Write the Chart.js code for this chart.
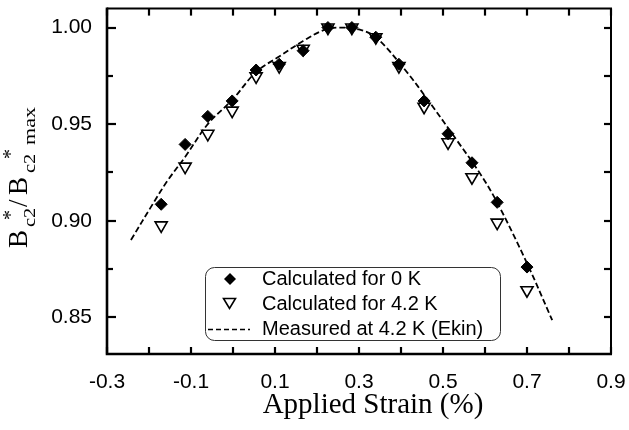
<!DOCTYPE html>
<html>
<head>
<meta charset="utf-8">
<script src="https://cdn.jsdelivr.net/npm/chart.js@4/dist/chart.umd.min.js"></script>
<style>
  html, body { margin: 0; padding: 0; background: #fff; }
  #wrap { width: 629px; height: 430px; position: relative; }
</style>
</head>
<body>
<div id="wrap"><canvas id="strainChart"></canvas></div>
<script>
// strain values (%) of the calculated points
const strainPts = [-0.171, -0.114, -0.060, -0.002, 0.055, 0.110, 0.167, 0.226, 0.283, 0.340, 0.395, 0.455, 0.512, 0.569, 0.629, 0.700];
// Bc2*/Bc2*max, calculated for 0 K (filled diamonds)
const calc0K = [0.9085, 0.9395, 0.954, 0.962, 0.978, 0.981, 0.988, 1.000, 1.000, 0.995, 0.981, 0.962, 0.945, 0.930, 0.9095, 0.876];
// Bc2*/Bc2*max, calculated for 4.2 K (open triangles)
const calc42K = [0.8976, 0.928, 0.945, 0.957, 0.9747, 0.980, 0.989, 1.000, 1.000, 0.995, 0.980, 0.959, 0.9406, 0.9225, 0.899, 0.864];
// measured curve at 4.2 K (Ekin)
const measStrain = [-0.243, -0.19, -0.155, -0.114, -0.06, 0.0, 0.055, 0.11, 0.167, 0.22, 0.26, 0.30, 0.34, 0.41, 0.469, 0.533, 0.588, 0.63, 0.70, 0.76];
const measValue = [0.890, 0.909, 0.921, 0.933, 0.950, 0.963, 0.977, 0.985, 0.993, 0.999, 1.000, 0.999, 0.995, 0.978, 0.961, 0.9416, 0.9245, 0.909, 0.878, 0.8485];

// tick marks (labelled ones are every other x tick, every other y tick)
const xTickVals = [-0.3, -0.2, -0.1, 0.0, 0.1, 0.2, 0.3, 0.4, 0.5, 0.6, 0.7, 0.8, 0.9];
const yTickVals = [0.850, 0.875, 0.900, 0.925, 0.950, 0.975, 1.000];

const legendLabels = ["Calculated for 0 K", "Calculated for 4.2 K", "Measured at 4.2 K (Ekin)"];
const xTitle = "Applied Strain (%)";

const toPoints = (xv, yv) => xv.map((x, i) => ({ x: x, y: yv[i] }));

// frame + inward tick marks
const frameTicks = {
  id: "frameTicks",
  afterDraw(chart) {
    const c = chart.ctx;
    const a = chart.chartArea;
    const sx = chart.scales.x, sy = chart.scales.y;
    c.save();
    c.setLineDash([]);
    c.strokeStyle = "#000";
    c.lineWidth = 2.2;
    for (const v of xTickVals) {
      const px = Math.round(sx.getPixelForValue(v));
      c.beginPath();
      c.moveTo(px, a.bottom);
      c.lineTo(px, a.bottom - 7);
      c.stroke();
      c.beginPath();
      c.moveTo(px, a.top);
      c.lineTo(px, a.top + 7);
      c.stroke();
    }
    for (const v of yTickVals) {
      const major = Math.round(v * 1000) % 50 === 0;
      const py = Math.round(sy.getPixelForValue(v));
      c.beginPath();
      c.moveTo(a.left, py);
      c.lineTo(a.left + (major ? 9 : 6), py);
      c.stroke();
      c.beginPath();
      c.moveTo(a.right, py);
      c.lineTo(a.right - 7, py);
      c.stroke();
    }
    // axis frame
    c.lineWidth = 2;
    c.beginPath();
    c.moveTo(a.left, a.top);
    c.lineTo(a.right, a.top);
    c.lineTo(a.right, a.bottom);
    c.stroke();
    c.lineWidth = 2.6;
    c.beginPath();
    c.moveTo(a.left, a.top - 1);
    c.lineTo(a.left, a.bottom);
    c.lineTo(a.right + 1, a.bottom);
    c.stroke();
    c.restore();
  }
};

// axis titles and the boxed legend
const titlesLegend = {
  id: "titlesLegend",
  afterDraw(chart) {
    const c = chart.ctx;
    c.save();
    c.fillStyle = "#000";

    // x title
    c.font = "29px 'Liberation Serif', 'Times New Roman', serif";
    c.textAlign = "center";
    c.textBaseline = "alphabetic";
    c.fillText(xTitle, 373, 413);

    // y title: B*c2 / B*c2 max, rotated
    c.translate(27, 248);
    c.rotate(-Math.PI / 2);
    c.textAlign = "left";
    const serif = "'Liberation Serif', 'Times New Roman', serif";
    const piece = (txt, along, up, size, stretch) => {
      c.save();
      c.translate(along, -up);
      c.scale(stretch || 1, 1);
      c.font = size + "px " + serif;
      c.fillText(txt, 0, 0);
      c.restore();
    };
    piece("B", 0, 0, 27);
    piece("c2", 21, -8, 17, 1.2);
    piece("*", 28, 10, 20);
    piece("/", 41, 0, 27);
    piece("B", 53, 0, 27);
    piece("c2", 75, -8, 17, 1.2);
    piece("*", 89, 10, 20);
    piece("max", 103, -8, 17, 1.3);
    c.restore();

    // legend box
    c.save();
    c.strokeStyle = "#333";
    c.lineWidth = 1;
    c.beginPath();
    c.roundRect(205.5, 267.5, 295, 73, 9);
    c.fillStyle = "#fff";
    c.fill();
    c.stroke();

    c.fillStyle = "#000";
    c.strokeStyle = "#000";
    // diamond
    c.beginPath();
    c.moveTo(230, 273); c.lineTo(236, 279); c.lineTo(230, 285); c.lineTo(224, 279);
    c.closePath();
    c.fill();
    // open triangle pointing down
    c.lineWidth = 1.6;
    c.beginPath();
    c.moveTo(223.5, 298.5); c.lineTo(235.5, 298.5); c.lineTo(229.5, 308.5);
    c.closePath();
    c.stroke();
    // dashed line
    c.lineWidth = 1.5;
    c.setLineDash([5, 3]);
    c.beginPath();
    c.moveTo(208, 329.5); c.lineTo(250, 329.5);
    c.stroke();
    c.setLineDash([]);

    c.font = "20px 'Liberation Sans', Arial, sans-serif";
    c.textAlign = "left";
    c.textBaseline = "alphabetic";
    c.fillText(legendLabels[0], 262, 285);
    c.fillText(legendLabels[1], 262, 310);
    c.fillText(legendLabels[2], 262, 335);
    c.restore();
  }
};

const ctx = document.getElementById("strainChart").getContext("2d");
new Chart(ctx, {
  type: "scatter",
  data: {
    datasets: [
      {
        label: legendLabels[2],
        type: "line",
        data: toPoints(measStrain, measValue),
        borderColor: "#000",
        borderWidth: 1.8,
        borderDash: [6, 3],
        pointRadius: 0,
        tension: 0.35,
        fill: false,
        order: 3
      },
      {
        label: legendLabels[1],
        data: toPoints(strainPts, calc42K),
        pointStyle: "triangle",
        rotation: 180,
        pointRadius: 7,
        borderColor: "#000",
        backgroundColor: "#fff",
        borderWidth: 1.6,
        order: 2
      },
      {
        label: legendLabels[0],
        data: toPoints(strainPts, calc0K),
        pointStyle: "rectRot",
        pointRadius: 6,
        borderColor: "#000",
        backgroundColor: "#000",
        borderWidth: 1,
        order: 1
      }
    ]
  },
  options: {
    responsive: true,
    maintainAspectRatio: false,
    animation: false,
    events: [],
    layout: { padding: { top: 8, right: 18, left: 0, bottom: 0 } },
    plugins: { legend: { display: false }, tooltip: { enabled: false } },
    scales: {
      x: {
        type: "linear",
        min: -0.3,
        max: 0.9,
        grid: { display: false },
        border: { display: false },
        ticks: {
          stepSize: 0.1,
          autoSkip: false,
          maxRotation: 0,
          padding: 8,
          color: "#000",
          font: { family: "'Liberation Sans', Arial, sans-serif", size: 21 },
          callback: v => (Math.abs(Math.round(v * 10)) % 2 === 1 ? v.toFixed(1) : "")
        },
        afterFit(scale) {
          scale.height = 76;
          scale.paddingLeft = 0;
          scale.paddingRight = 0;
        }
      },
      y: {
        type: "linear",
        min: 0.831,
        max: 1.0098,
        grid: { display: false },
        border: { display: false },
        ticks: {
          stepSize: 0.025,
          includeBounds: false,
          autoSkip: false,
          padding: 7,
          color: "#000",
          font: { family: "'Liberation Sans', Arial, sans-serif", size: 21 },
          callback: v => (Math.round(v * 1000) % 50 === 0 ? v.toFixed(2) : "")
        },
        afterFit(scale) {
          scale.width = 107;
          scale.paddingTop = 0;
          scale.paddingBottom = 0;
        }
      }
    }
  },
  plugins: [frameTicks, titlesLegend]
});
</script>
</body>
</html>
